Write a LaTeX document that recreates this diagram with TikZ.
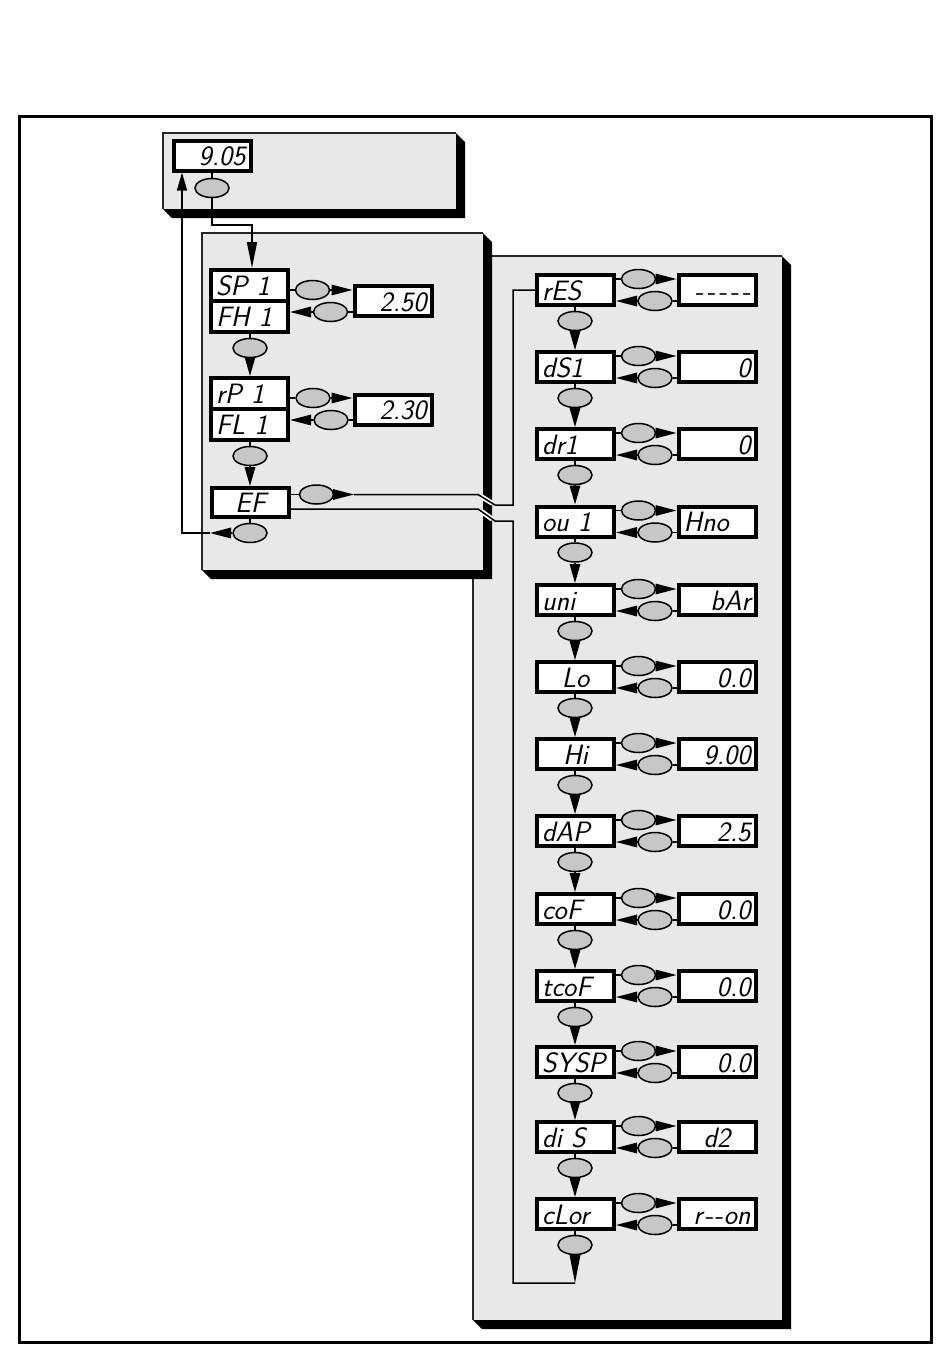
\documentclass[tikz,border=0pt]{standalone}
\usepackage{fontspec}
\usetikzlibrary{shapes.geometric,arrows.meta,calc}
\definecolor{panelc}{gray}{0.91}
\definecolor{ovalc}{gray}{0.78}
\newcommand\mypanel[4]{%
  \fill[black] (#3,#2) -- (#3+9,#2+9) -- (#3+9,#4+9) -- (#1+9,#4+9) -- (#1,#4) -- (#3,#4) -- cycle;
  \fill[panelc] (#1,#2) rectangle (#3,#4);
  \draw[line width=2pt, black!85] (#1,#4) -- (#1,#2) -- (#3,#2);
}
\newcommand\dashes{-\kern3pt-\kern3pt-\kern3pt-\kern3pt-}
\newcommand\ron{r\kern2pt-\kern1pt-\kern1pt on}
\begin{document}
\begin{tikzpicture}[x=1pt,y=-1pt,
  disp/.style={draw=black, line width=4pt, fill=white, minimum width=77pt, minimum height=30pt,
    inner xsep=4pt, inner ysep=0pt, text width=67pt, text height=20pt, text depth=0pt,
    font=\fontsize{28}{28}\selectfont\sffamily\itshape\addfontfeature{LetterSpace=4}},
  oval/.style={ellipse, draw=black, line width=1.5pt, fill=ovalc, minimum width=34pt,
    minimum height=19pt, inner sep=0pt},
  conn/.style={draw=black, line width=1.5pt},
  wedge/.style={conn, -{Triangle[length=#1, width=10.5pt]}},
  wedge/.default=21pt,
  casing/.style={draw=white, line width=5pt},
]
\useasboundingbox (0,0) rectangle (950,1369);
% panels
\mypanel{473}{256}{782}{1320}
\mypanel{202}{233}{483}{570}
\mypanel{163}{133}{456}{209}
% outer frame
\draw[line width=3pt] (19.5,116) rectangle (931,1342);

% top display
\node[disp, align=right] (t905) at (212,155.5) {9.05};
\node[oval] (to) at (212,188) {};

% SP / FH group
\node[disp, align=left, minimum height=31pt] (sp1) at (249.5,285.5) {SP 1};
\node[disp, align=left, minimum height=31pt] (fh1) at (249.5,316.5) {FH 1};
\node[oval] (spa) at (312.5,290) {};
\node[oval] (spb) at (330.5,312) {};
\node[disp, align=right] (spv) at (393,301) {2.50};
\node[oval] (spd) at (250,348) {};

% rP / FL group
\node[disp, align=left, minimum height=31pt] (rp1) at (249.5,393.5) {rP 1};
\node[disp, align=left, minimum height=31pt] (fl1) at (249.5,424.5) {FL 1};
\node[oval] (rpa) at (313,398) {};
\node[oval] (rpb) at (331,420) {};
\node[disp, align=right] (rpv) at (393,409.5) {2.30};
\node[oval] (rpd) at (250,456) {};

% EF
\node[disp, align=center, minimum height=29pt] (ef) at (250.5,502.5) {EF};
\node[oval] (efa) at (316.5,494.5) {};
\node[oval] (efd) at (250,533) {};

% right list
\foreach \i/\y/\pn/\pa/\vv/\va in {
  1/290/rES/left/\dashes/right,
  2/367/dS1/left/0/right,
  3/444/dr1/left/0/right,
  4/521.5/ou 1/left/Hno/left,
  5/600/uni/left/bAr/right,
  6/677/Lo/center/0.0/right,
  7/754/Hi/center/9.00/right,
  8/831/dAP/left/2.5/right,
  9/909/coF/left/0.0/right,
  10/986/tcoF/left/0.0/right,
  11/1062/SYSP/left/0.0/right,
  12/1137/di S/left/d2/center,
  13/1214/cLor/left/\ron/right}
{
  \node[disp, align/.expanded=\pa] (p\i) at (575.5,\y) {\pn};
  \node[disp, align/.expanded=\va] (v\i) at (717,\y) {\vv};
  \node[oval] (a\i) at (638.5,\y-11) {};
  \node[oval] (b\i) at (655,\y+11) {};
  \node[oval] (d\i) at (575,\y+31) {};
  \draw[conn] (a\i.west -| p\i.east) -- (a\i.west);
  \draw[wedge] (a\i.east) -- (a\i.east -| v\i.west);
  \draw[conn] (v\i.west |- b\i.east) -- (b\i.east);
  \draw[wedge] (b\i.west) -- (b\i.west -| p\i.east);
  \draw[conn] (d\i.north |- p\i.south) -- (d\i.north);
}
\foreach \i [evaluate=\i as \j using int(\i+1)] in {1,...,12}
  \draw[wedge=19pt] (d\i.south) -- (d\i.south |- p\j.north);

% top connectors
\draw[conn] (t905.south) -- (to.north);
\coordinate (c1) at (212,225);
\coordinate (c2) at (252,225);
\draw[conn, -{Triangle[length=26pt,width=10pt]}] (to.south) -- (c1) -- (c2) -- (c2 |- sp1.north);

% SP group connectors
\draw[conn] (spa.west -| sp1.east) -- (spa.west);
\draw[wedge] (spa.east) -- (spa.east -| spv.west);
\draw[conn] (spv.west |- spb.east) -- (spb.east);
\draw[wedge] (spb.west) -- (spb.west -| fh1.east);
\draw[conn] (spd.north |- fh1.south) -- (spd.north);
\draw[wedge=19pt] (spd.south) -- (spd.south |- rp1.north);

% rP group connectors
\draw[conn] (rpa.west -| rp1.east) -- (rpa.west);
\draw[wedge] (rpa.east) -- (rpa.east -| rpv.west);
\draw[conn] (rpv.west |- rpb.east) -- (rpb.east);
\draw[wedge] (rpb.west) -- (rpb.west -| fl1.east);
\draw[conn] (rpd.north |- fl1.south) -- (rpd.north);
\draw[wedge=19pt] (rpd.south) -- (rpd.south |- ef.north);

% EF connectors
\draw[conn] (efa.west -| ef.east) -- (efa.west);
\coordinate (u1) at (354,494.5);
\coordinate (u2) at (478,494.5);
\coordinate (u3) at (495,505);
\coordinate (u4) at (513,505);
\coordinate (l2) at (478,509);
\coordinate (l3) at (495,521);
\coordinate (l4) at (513,521);
\coordinate (l5) at (513,1283);
\coordinate (l6) at (575,1283);
\draw[casing] ($(u2)!0.2!(u3)$) -- ($(u2)!0.85!(u3)$);
\draw[casing] ($(l2)!0.2!(l3)$) -- ($(l2)!0.85!(l3)$);
\draw[wedge] (efa.east) -- (u1);
\draw[conn] (u1) -- (u2) -- (u3) -- (u4) -- (u4 |- p1.west) -- (p1.west);
\draw[conn] (l2 -| ef.east) -- (l2) -- (l3) -- (l4) -- (l5) -- (l6);
\draw[wedge=28pt] (d13.south) -- (l6);

% return to top
\draw[conn] (efd.north |- ef.south) -- (efd.north);
\coordinate (r0) at (210,533);
\coordinate (r1) at (182,533);
\draw[wedge] (efd.west) -- (r0);
\draw[conn, -{Triangle[length=18pt,width=10pt]}] (r0) -- (r1) -- (r1 |- t905.south);
\end{tikzpicture}
\end{document}
